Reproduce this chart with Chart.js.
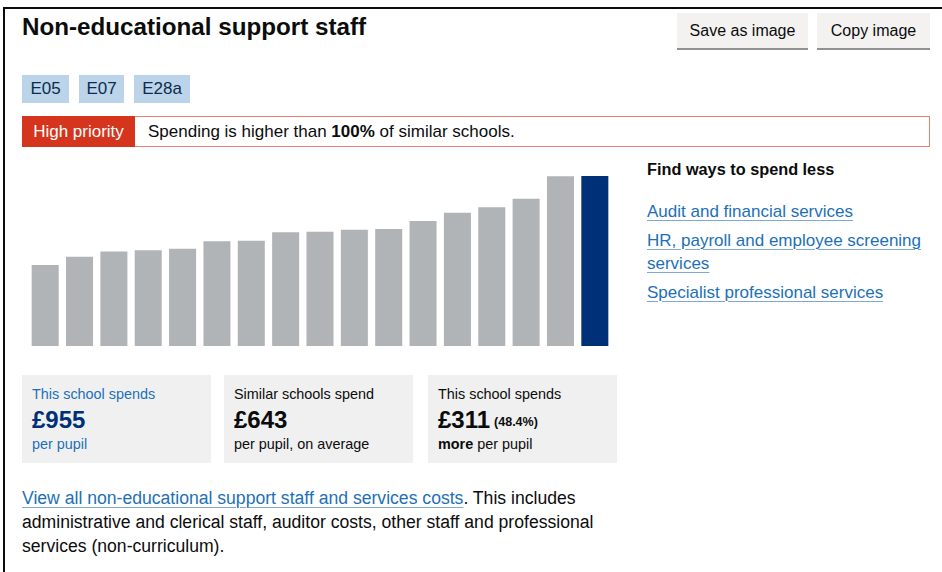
<!DOCTYPE html>
<html lang="en">
<head>
    <meta charset="UTF-8">
    <title>Non-educational support staff</title>
    <script src="https://cdn.jsdelivr.net/npm/chart.js"></script>
    <style>
        body {
            margin: 0;
            width: 942px;
            height: 572px;
            overflow: hidden;
            background: #fff;
            color: #0b0c0c;
            font-family: "Liberation Sans", Arial, sans-serif;
            position: relative;
        }
        .frame {
            position: absolute;
            left: 3px;
            top: 7px;
            width: 960px;
            height: 600px;
            border-top: 2px solid #0b0c0c;
            border-left: 2px solid #0b0c0c;
        }
        h2 {
            position: absolute;
            left: 22px;
            top: 13px;
            margin: 0;
            font-size: 24.2px;
            font-weight: bold;
        }
        .btn {
            position: absolute;
            top: 13px;
            height: 35px;
            line-height: 35px;
            background: #f3f2f1;
            box-shadow: 0 2px 0 #929191;
            font-size: 16px;
            text-align: center;
        }
        .tag {
            position: absolute;
            top: 75px;
            height: 28px;
            line-height: 28px;
            background: #bbd4ea;
            color: #0c2d4a;
            font-size: 17px;
            text-align: center;
        }
        .banner {
            position: absolute;
            left: 22px;
            top: 116px;
            width: 906px;
            height: 29px;
            border: 1px solid #e8806e;
            font-size: 17px;
            line-height: 29px;
        }
        .banner .label {
            position: absolute;
            left: -1px;
            top: -1px;
            height: 31px;
            width: 113px;
            background: #d4351c;
            color: #fff;
            text-align: center;
            line-height: 31px;
        }
        .banner .msg {
            position: absolute;
            left: 125px;
            top: 0;
        }
        .chart-box {
            position: absolute;
            left: 22px;
            top: 160px;
            width: 595px;
            height: 190px;
        }
        .side {
            position: absolute;
            left: 647px;
            top: 159px;
            width: 285px;
        }
        .side h3 {
            margin: 0 0 21px 0;
            font-size: 16.3px;
            line-height: 20px;
        }
        a {
            color: #1d70b8;
            text-decoration: underline;
            text-decoration-thickness: 1px;
            text-underline-offset: 3px;
            text-decoration-color: #7fa9d4;
        }
        .side a {
            display: block;
            font-size: 17px;
            line-height: 23px;
            margin-bottom: 6px;
        }
        .panel {
            position: absolute;
            top: 375px;
            width: 189px;
            height: 88px;
            background: #f0f0f0;
            font-size: 14.4px;
        }
        .panel .cap { position: absolute; left: 10px; top: 11px; }
        .panel .big { position: absolute; left: 10px; top: 31px; font-size: 24px; font-weight: bold; }
        .panel .big small { font-size: 12.5px; margin-left: 4px; vertical-align: 2px; }
        .panel .sub { position: absolute; left: 10px; top: 61px; }
        .panel.own { color: #1d70b8; }
        .panel.own .big { color: #003078; }
        .note {
            position: absolute;
            left: 22px;
            top: 486px;
            width: 600px;
            font-size: 17.6px;
            line-height: 24px;
            margin: 0;
        }
    </style>
</head>
<body>
    <div class="frame"></div>
    <h2>Non-educational support staff</h2>
    <div class="btn" style="left:677px;width:131px;">Save as image</div>
    <div class="btn" style="left:817px;width:113px;">Copy image</div>

    <div class="tag" style="left:22px;width:47px;">E05</div>
    <div class="tag" style="left:79px;width:45px;">E07</div>
    <div class="tag" style="left:134px;width:56px;">E28a</div>

    <div class="banner">
        <div class="label">High priority</div>
        <div class="msg">Spending is higher than <b>100%</b> of similar schools.</div>
    </div>

    <div class="chart-box">
        <canvas id="spendChart"></canvas>
    </div>

    <div class="side">
        <h3>Find ways to spend less</h3>
        <a href="#">Audit and financial services</a>
        <a href="#">HR, payroll and employee screening services</a>
        <a href="#">Specialist professional services</a>
    </div>

    <div class="panel own" style="left:22px;">
        <div class="cap">This school spends</div>
        <div class="big">£955</div>
        <div class="sub">per pupil</div>
    </div>
    <div class="panel" style="left:224px;">
        <div class="cap">Similar schools spend</div>
        <div class="big">£643</div>
        <div class="sub">per pupil, on average</div>
    </div>
    <div class="panel" style="left:428px;">
        <div class="cap">This school spends</div>
        <div class="big">£311<small>(48.4%)</small></div>
        <div class="sub"><b>more</b> per pupil</div>
    </div>

    <p class="note"><a href="#">View all non-educational support staff and services costs</a>. This includes administrative and clerical staff, auditor costs, other staff and professional services (non-curriculum).</p>

    <script>
        // spend per pupil (£), similar schools sorted low to high, this school last
        const schoolNames = [
            'Similar school 1', 'Similar school 2', 'Similar school 3', 'Similar school 4',
            'Similar school 5', 'Similar school 6', 'Similar school 7', 'Similar school 8',
            'Similar school 9', 'Similar school 10', 'Similar school 11', 'Similar school 12',
            'Similar school 13', 'Similar school 14', 'Similar school 15', 'Similar school 16',
            'This school'
        ];
        const spendPerPupil = [458, 504, 534, 540, 549, 590, 594, 641, 644, 655, 659, 704, 750, 780, 828, 953, 955];
        const thisSchool = 'This school';

        const ctx = document.getElementById('spendChart').getContext('2d');
        const spendChart = new Chart(ctx, {
            type: 'bar',
            data: {
                labels: schoolNames,
                datasets: [{
                    label: 'Spend per pupil',
                    data: spendPerPupil,
                    backgroundColor: schoolNames.map(n => n === thisSchool ? '#003078' : '#b1b4b6'),
                    borderColor: 'rgba(255, 255, 255, 0.55)',
                    borderWidth: 1,
                    categoryPercentage: 1,
                    barPercentage: 0.845
                }]
            },
            options: {
                responsive: true,
                maintainAspectRatio: false,
                animation: false,
                layout: {
                    padding: { left: 6, right: 5, top: 15, bottom: 4 }
                },
                scales: {
                    x: { display: false },
                    y: { display: false, min: 0, max: Math.max(...spendPerPupil) }
                },
                plugins: {
                    legend: { display: false },
                    tooltip: { enabled: false }
                }
            }
        });
    </script>
</body>
</html>
